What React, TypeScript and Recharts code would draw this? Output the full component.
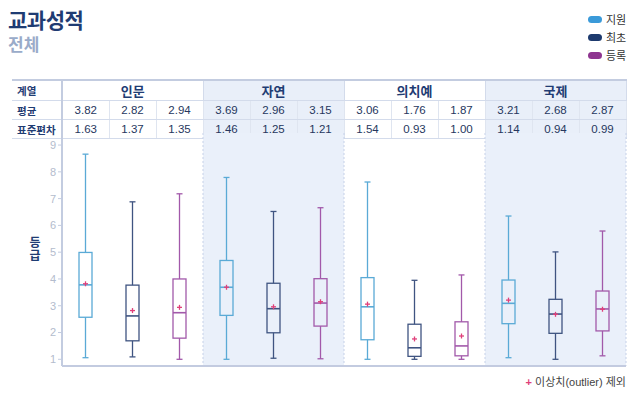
import { ComposedChart, Bar, XAxis, YAxis, ReferenceArea } from 'recharts';

const groups = ['인문', '자연', '의치예', '국제'];
const seriesNames = ['지원', '최초', '등록'];
const seriesColors = ['#5aaad6', '#3f5481', '#a259aa'];
const legendColors = ['#3a9ad9', '#1d3a6e', '#8e3590'];

// 평균 / 표준편차 (table)
const means = [
  [3.82, 2.82, 2.94],
  [3.69, 2.96, 3.15],
  [3.06, 1.76, 1.87],
  [3.21, 2.68, 2.87],
];
const sds = [
  [1.63, 1.37, 1.35],
  [1.46, 1.25, 1.21],
  [1.54, 0.93, 1.0],
  [1.14, 0.94, 0.99],
];

// box plot values
const mins = [
  [1.06, 1.09, 1.0],
  [1.0, 1.04, 1.02],
  [1.0, 1.0, 1.0],
  [1.06, 1.0, 1.13],
];
const q1s = [
  [2.57, 1.69, 1.79],
  [2.64, 1.99, 2.24],
  [1.73, 1.11, 1.13],
  [2.33, 1.97, 2.06],
];
const medians = [
  [3.78, 2.62, 2.74],
  [3.69, 2.89, 3.1],
  [2.96, 1.43, 1.5],
  [3.09, 2.69, 2.88],
];
const q3s = [
  [4.99, 3.77, 4.0],
  [4.69, 3.84, 4.01],
  [4.05, 2.31, 2.4],
  [3.96, 3.24, 3.55],
];
const maxs = [
  [8.66, 6.88, 7.18],
  [7.79, 6.52, 6.66],
  [7.62, 3.95, 4.15],
  [6.35, 5.01, 5.79],
];

const yTicks = [1, 2, 3, 4, 5, 6, 7, 8, 9];
const shadedGroups = [1, 3];

const data = groups.flatMap((g, gi) =>
  seriesNames.map((s, si) => ({
    key: `${g}-${s}`,
    si,
    min: mins[gi][si],
    q1: q1s[gi][si],
    median: medians[gi][si],
    q3: q3s[gi][si],
    max: maxs[gi][si],
    mean: means[gi][si],
  }))
);

const font = "'Liberation Sans', 'Noto Sans CJK KR', sans-serif";
const navy = '#1f3c73';

function BoxShape(props: any) {
  const { x, y, width, height, payload } = props;
  const top = Math.min(y, y + height);
  const bottom = Math.max(y, y + height);
  const px = (v: number) => top + ((payload.max - v) / (payload.max - payload.min)) * (bottom - top);
  const color = seriesColors[payload.si];
  const cx = x + width / 2;
  const cap = 3;
  const mY = px(payload.mean);
  return (
    <g>
      <line x1={cx} x2={cx} y1={px(payload.max)} y2={px(payload.q3)} stroke={color} strokeWidth={1.3} />
      <line x1={cx} x2={cx} y1={px(payload.q1)} y2={px(payload.min)} stroke={color} strokeWidth={1.3} />
      <line x1={cx - cap} x2={cx + cap} y1={px(payload.max)} y2={px(payload.max)} stroke={color} strokeWidth={1.3} />
      <line x1={cx - cap} x2={cx + cap} y1={px(payload.min)} y2={px(payload.min)} stroke={color} strokeWidth={1.3} />
      <rect x={x} y={px(payload.q3)} width={width} height={px(payload.q1) - px(payload.q3)} fill="none" stroke={color} strokeWidth={1.3} />
      <line x1={x} x2={x + width} y1={px(payload.median)} y2={px(payload.median)} stroke={color} strokeWidth={1.6} />
      <line x1={cx - 2.5} x2={cx + 2.5} y1={mY} y2={mY} stroke="#e0407a" strokeWidth={1.3} />
      <line x1={cx} x2={cx} y1={mY - 2.5} y2={mY + 2.5} stroke="#e0407a" strokeWidth={1.3} />
    </g>
  );
}

function ShadeShape(props: any) {
  const { x, y, width, height } = props;
  return (
    <g>
      <rect x={x} y={y} width={width} height={height} fill="#eaf0fa" />
      <line x1={x} x2={x} y1={y} y2={y + height} stroke="#c6d1e8" strokeDasharray="2 2" />
      <line x1={x + width} x2={x + width} y1={y} y2={y + height} stroke="#c6d1e8" strokeDasharray="2 2" />
    </g>
  );
}

const cellBase: any = {
  height: 18,
  padding: 0,
  textAlign: 'center',
  color: '#26375e',
  fontSize: 11.5,
  borderBottom: '1px solid #d3dbeb',
  borderRight: '1px solid #dfe5f0',
};

function StatTable() {
  const shade = (gi: number) => (shadedGroups.includes(gi) ? '#e9eff9' : '#ffffff');
  const label: any = { ...cellBase, textAlign: 'left', paddingLeft: 5, fontWeight: 700, fontSize: 10.5, color: navy, borderRight: '2px solid #c3cce0' };
  return (
    <table
      style={{
        position: 'absolute',
        left: 12,
        top: 79,
        width: 614,
        borderCollapse: 'collapse',
        tableLayout: 'fixed',
        fontFamily: font,
        borderTop: '2px solid #c3cce0',
      }}
    >
      <colgroup>
        <col style={{ width: 50 }} />
        {groups.flatMap((g) => seriesNames.map((s) => <col key={g + s} style={{ width: 47 }} />))}
      </colgroup>
      <tbody>
        <tr>
          <td style={label}>계열</td>
          {groups.map((g, gi) => (
            <td key={g} colSpan={3} style={{ ...cellBase, fontWeight: 700, fontSize: 13, color: navy, background: shade(gi), borderRight: '1px solid #d3dbeb' }}>
              {g}
            </td>
          ))}
        </tr>
        <tr>
          <td style={label}>평균</td>
          {groups.flatMap((g, gi) =>
            means[gi].map((v, si) => (
              <td key={g + si} style={{ ...cellBase, background: shade(gi) }}>
                {v.toFixed(2)}
              </td>
            ))
          )}
        </tr>
        <tr>
          <td style={label}>표준편차</td>
          {groups.flatMap((g, gi) =>
            sds[gi].map((v, si) => (
              <td key={g + si} style={{ ...cellBase, background: shade(gi) }}>
                {v.toFixed(2)}
              </td>
            ))
          )}
        </tr>
      </tbody>
    </table>
  );
}

export default function App() {
  return (
    <div style={{ position: 'absolute', left: 0, top: 0, width: 643, height: 395, background: '#fff', fontFamily: font, overflow: 'hidden' }}>
      <div style={{ position: 'absolute', left: 8, top: 4, fontSize: 21, fontWeight: 700, color: navy, letterSpacing: -0.5 }}>교과성적</div>
      <div style={{ position: 'absolute', left: 8, top: 31, fontSize: 17, fontWeight: 700, color: '#9aabc9' }}>전체</div>

      {seriesNames.map((s, i) => (
        <div key={s} style={{ position: 'absolute', left: 588, top: 12 + i * 18, height: 14, display: 'flex', alignItems: 'center', fontSize: 11, color: '#333' }}>
          <span style={{ display: 'inline-block', width: 14, height: 7, borderRadius: 4, background: legendColors[i], marginRight: 4 }} />
          {s}
        </div>
      ))}

      <StatTable />

      <div style={{ position: 'absolute', left: 0, top: 0 }}>
        <ComposedChart
          width={643}
          height={395}
          data={data}
          margin={{ top: 133, right: 17, bottom: 28, left: 42 }}
          barCategoryGap={17}
        >
          <XAxis dataKey="key" tick={false} tickLine={false} height={1} axisLine={{ stroke: '#c3cbe0', strokeWidth: 2 }} />
          <YAxis
            width={20}
            domain={[0.75, 9.45]}
            ticks={yTicks}
            allowDataOverflow
            axisLine={{ stroke: '#c3cce0', strokeWidth: 2 }}
            tickLine={{ stroke: '#c3cce0' }}
            tickSize={4}
            tick={{ fill: '#b3bccd', fontSize: 11, fontFamily: font }}
          />
          {shadedGroups.map((gi) => (
            <ReferenceArea
              key={gi}
              x1={`${groups[gi]}-${seriesNames[0]}`}
              x2={`${groups[gi]}-${seriesNames[2]}`}
              y1={0.75}
              y2={9.45}
              shape={<ShadeShape />}
            />
          ))}
          <Bar dataKey={(d: any) => [d.min, d.max]} barSize={13} shape={<BoxShape />} isAnimationActive={false} />
        </ComposedChart>
      </div>

      <div style={{ position: 'absolute', left: 28, top: 237, width: 14, fontSize: 12, lineHeight: '13px', fontWeight: 700, color: navy, textAlign: 'center' }}>
        등<br />급
      </div>

      <div style={{ position: 'absolute', right: 17, top: 373, fontSize: 11, color: '#444' }}>
        <span style={{ color: '#e0407a', fontWeight: 700, marginRight: 3 }}>+</span>이상치(outlier) 제외
      </div>
    </div>
  );
}
